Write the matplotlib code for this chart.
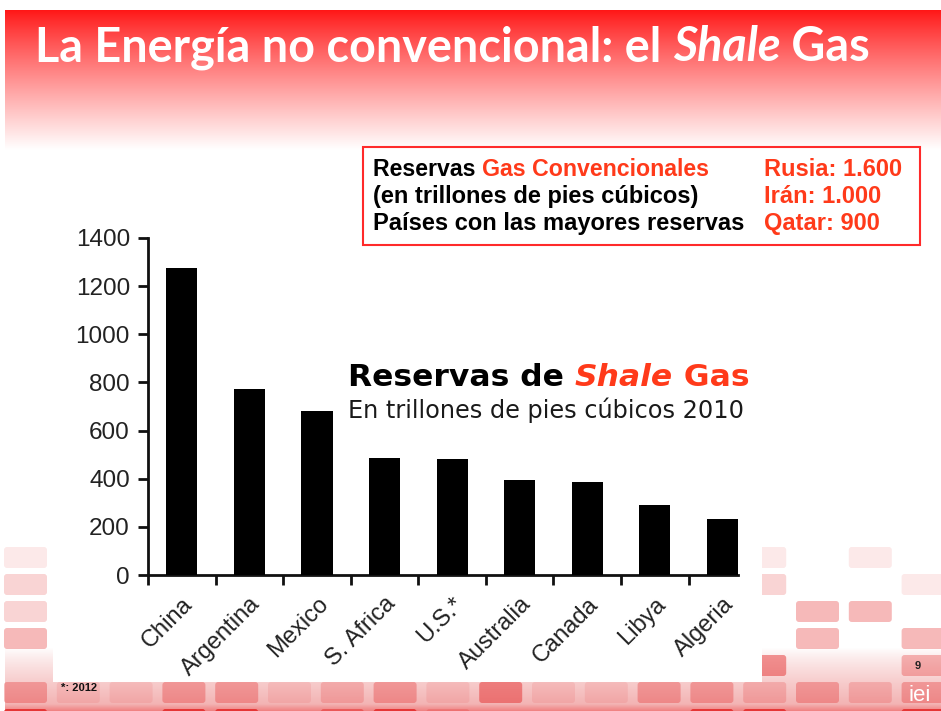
import numpy as np
import matplotlib
matplotlib.use("Agg")
import matplotlib.pyplot as plt
from matplotlib.patches import Rectangle, FancyBboxPatch

# shale gas technically recoverable reserves (tcf)
countries = ["China", "Argentina", "Mexico", "S. Africa", "U.S.*",
             "Australia", "Canada", "Libya", "Algeria"]
reserves = [1275, 774, 681, 485, 482, 396, 388, 290, 231]
y_ticks = [0, 200, 400, 600, 800, 1000, 1200, 1400]

# conventional gas box
box_left = ["(en trillones de pies cúbicos)", "Países con las mayores reservas"]
box_right = ["Rusia: 1.600", "Irán: 1.000", "Qatar: 900"]

# decorative tiles at the bottom of the slide (0 = no tile)
tile_rows = [
    [1, 0, 0, 0, 0, 0, 0, 0, 0, 0, 0, 0, 0, 0, 1, 0, 1, 0],
    [2, 0, 0, 0, 0, 0, 0, 0, 0, 0, 0, 0, 0, 0, 2, 0, 0, 1],
    [2, 0, 0, 0, 0, 0, 0, 0, 0, 0, 0, 0, 0, 0, 0, 3, 3, 0],
    [3, 0, 0, 0, 0, 0, 0, 0, 0, 0, 0, 0, 0, 0, 0, 3, 0, 3],
    [0, 0, 0, 0, 0, 0, 0, 0, 0, 0, 0, 0, 0, 0, 4, 0, 0, 3],
    [3, 1, 1, 3, 3, 1, 2, 3, 1, 4, 1, 1, 3, 3, 2, 3, 2, 3],
    [5, 0, 0, 5, 5, 0, 4, 5, 2, 0, 0, 0, 0, 5, 5, 0, 0, 5],
]
tile_alpha = {1: 0.10, 2: 0.20, 3: 0.32, 4: 0.48, 5: 0.85}

W, H = 941, 711
fig = plt.figure(figsize=(W / 100, H / 100), dpi=100)
fig.patch.set_facecolor("white")

bg = fig.add_axes([0, 0, 1, 1], zorder=0)
bg.set_xlim(0, W)
bg.set_ylim(H, 0)
bg.axis("off")


def vgradient(ax, x0, x1, y0, y1, c0, c1, power=1.0):
    t = np.linspace(0, 1, 256) ** power
    c0 = np.array(matplotlib.colors.to_rgb(c0))
    c1 = np.array(matplotlib.colors.to_rgb(c1))
    img = (c0[None, :] * (1 - t[:, None]) + c1[None, :] * t[:, None])[:, None, :]
    ax.imshow(img, extent=(x0, x1, y1, y0), aspect="auto", interpolation="bilinear", zorder=1)


# header band
vgradient(bg, 5, W, 10, 150, "#ff1616", "#ffffff", power=0.9)
# reddish wash at the foot of the slide
vgradient(bg, 5, W, 648, 704, "#ffffff", "#f3b4b4", power=0.8)
vgradient(bg, 5, W, 704, H, "#f3b4b4", "#f08080")

# tiles
for r, row in enumerate(tile_rows):
    for c, lvl in enumerate(row):
        if lvl == 0:
            continue
        x = 4 + c * 52.8
        y = 547 + r * 27
        bg.add_patch(FancyBboxPatch((x, y), 43, 21, boxstyle="round,pad=0,rounding_size=3",
                                    fc="#e42828", alpha=tile_alpha[lvl], ec="none", zorder=2))

# white panel behind the chart
bg.add_patch(Rectangle((53, 300), 709, 382, fc="white", ec="none", zorder=3))

# conventional reserves box
bg.add_patch(Rectangle((363, 147), 557, 98, fc="white", ec="#ff2a2a", lw=1.5, zorder=3))

# chart
ax = fig.add_axes([148 / W, (H - 575) / H, (738 - 148) / W, (575 - 238) / H], zorder=2)
ax.set_facecolor("none")
x = np.arange(len(countries))
ax.bar(x, reserves, width=0.46, color="black", zorder=3)
ax.set_xlim(-0.5, 8.23)
ax.set_ylim(0, 1400)
for side in ["top", "right"]:
    ax.spines[side].set_visible(False)
for side in ["left", "bottom"]:
    ax.spines[side].set_linewidth(2)
    ax.spines[side].set_color("#111111")
ax.set_yticks(y_ticks)
ax.set_xticks(np.arange(-0.5, 8, 1.0))
ax.set_xticklabels([])
ax.set_xticks(x, minor=True)
ax.set_xticklabels(countries, minor=True, rotation=45, ha="right", va="top",
                   rotation_mode="anchor", fontsize=17, color="#222222", family="Liberation Sans")
ax.tick_params(axis="x", which="major", length=7, width=2, color="#111111", direction="out")
ax.tick_params(axis="x", which="minor", length=0, pad=13)
ax.tick_params(axis="y", length=7, width=2, color="#111111", direction="out", pad=6,
               labelsize=17.5, labelcolor="#222222")
for lab in ax.get_yticklabels():
    lab.set_family("Liberation Sans")

# overlay for text
fg = fig.add_axes([0, 0, 1, 1], zorder=5)
fg.set_xlim(0, W)
fg.set_ylim(H, 0)
fg.axis("off")
renderer = fig.canvas.get_renderer()


def put_runs(x, y, runs, size, family, width=None, weight="bold"):
    """Draw consecutive text pieces on one baseline; optionally scale to a width."""
    def draw(sz):
        arts, cx = [], x
        for txt, color, style in runs:
            t = fg.text(cx, y, txt, color=color, fontsize=sz, family=family,
                        fontweight=weight, fontstyle=style, va="baseline", ha="left")
            bb = t.get_window_extent(renderer)
            cx += bb.width
            arts.append(t)
        return arts, cx - x
    arts, w = draw(size)
    if width is not None:
        for a in arts:
            a.remove()
        arts, w = draw(size * width / w)
    return arts


RED = "#ff3a1a"
put_runs(35, 61, [("La Energía no convencional: el ", "white", "normal"),
                  ("Shale", "white", "italic"), (" Gas", "white", "normal")],
         28, "Lato", width=835)

put_runs(348, 386, [("Reservas de ", "black", "normal"), ("Shale", RED, "italic"),
                    (" Gas", RED, "normal")], 20, "DejaVu Sans", width=402)
put_runs(348, 418, [("En trillones de pies cúbicos 2010", "#1a1a1a", "normal")],
         15, "DejaVu Sans", width=396, weight="normal")

put_runs(373, 176, [("Reservas ", "black", "normal"), ("Gas Convencionales", RED, "normal")],
         17, "Liberation Sans", width=337)
for i, line in enumerate(box_left):
    put_runs(373, 203 + 27 * i, [(line, "black", "normal")], 17, "Liberation Sans")
for i, line in enumerate(box_right):
    put_runs(764, 176 + 27 * i, [(line, RED, "normal")], 17, "Liberation Sans")

fg.text(61, 691, "*: 2012", fontsize=8, fontweight="bold", family="Liberation Sans",
        color="#111111", va="baseline")
fg.text(918, 669, "9", fontsize=8, fontweight="bold", family="Liberation Sans",
        color="#222222", va="baseline", ha="center")
fg.text(920, 701, "iei", fontsize=16, family="Liberation Sans", color="white",
        va="baseline", ha="center")

fig.savefig("out.png", dpi=100, facecolor="white")
